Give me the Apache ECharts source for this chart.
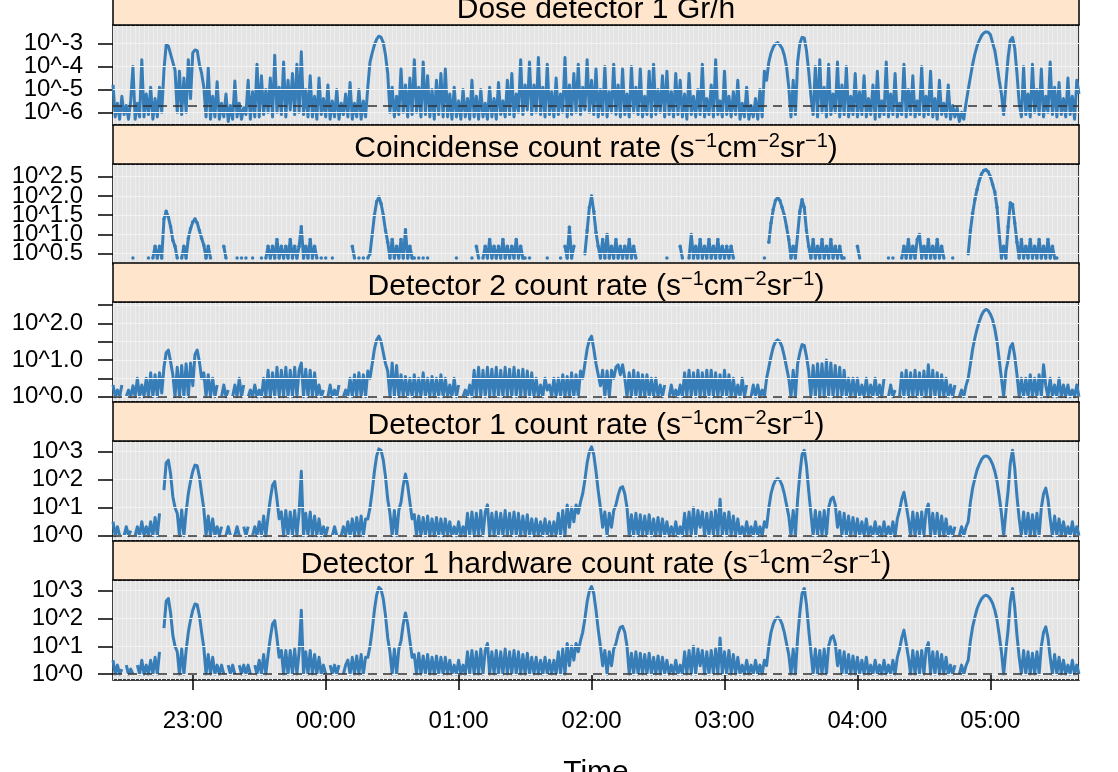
<!DOCTYPE html>
<html><head><meta charset="utf-8">
<script src="https://cdn.jsdelivr.net/npm/echarts@6/dist/echarts.min.js"></script>
<style>html,body{margin:0;padding:0;background:#fff}#c{width:1118px;height:772px}</style>
</head><body><div id="c"></div>
<script>
// ---------- DATA ----------
// sample times: minutes after midnight of the first day, one sample per minute from 22:24
const timeStartMin = 1344;
const timeStepMin = 1;
const hourTicks = [1380, 1440, 1500, 1560, 1620, 1680, 1740];
const hourLabels = ['23:00', '00:00', '01:00', '02:00', '03:00', '04:00', '05:00'];

// log10 of dose rate (Gr/h)
const doseLog10 = [
-4.8,-6.2,-5.6,-6.3,-5.3,-6.1,-5.7,-6.3,-5.5,-4.0,
-6.3,-5.6,-6.2,-3.7,-6.2,-5.2,-6.1,-4.9,-6.3,-5.4,
-6.2,-4.9,-6.0,-4.15,-3.05,-3.1,-3.45,-3.8,-4.15,-6.0,
-4.2,-6.1,-4.5,-6.0,-3.7,-5.4,-3.4,-3.27,-3.3,-3.9,
-4.3,-4.9,-6.2,-4.05,-6.3,-5.3,-6.2,-4.66,-6.3,-5.6,
-6.2,-5.2,-6.4,-5.7,-6.3,-4.63,-6.2,-5.6,-6.3,-5.8,
-6.1,-4.6,-6.3,-5.1,-6.2,-3.9,-6.2,-4.4,-6.1,-5.0,
-6.0,-4.5,-6.2,-3.5,-6.0,-4.9,-6.1,-3.8,-6.2,-4.6,
-5.9,-4.3,-6.1,-3.9,-6.0,-3.35,-6.1,-5.0,-6.2,-4.4,
-6.2,-5.3,-6.3,-4.5,-6.1,-5.4,-6.2,-4.8,-6.3,-5.5,
-6.2,-5.0,-6.3,-5.6,-6.1,-5.2,-6.2,-4.7,-6.3,-5.6,
-6.2,-5.0,-6.3,-5.5,-6.2,-4.9,-3.8,-3.4,-3.05,-2.8,
-2.67,-2.72,-2.95,-3.5,-4.3,-6.0,-4.9,-6.2,-5.3,-6.1,
-4.1,-6.0,-4.8,-6.2,-4.5,-6.1,-3.7,-6.0,-4.9,-6.2,
-3.8,-6.1,-4.4,-6.2,-5.0,-6.3,-4.6,-6.1,-4.3,-6.2,
-4.1,-6.2,-5.2,-6.3,-4.9,-6.2,-5.5,-6.3,-5.0,-6.2,
-5.4,-6.3,-4.6,-6.2,-5.3,-6.3,-5.0,-6.2,-5.6,-6.3,
-4.9,-6.2,-5.4,-6.3,-4.7,-6.1,-5.5,-6.2,-4.6,-6.1,
-4.3,-6.2,-5.2,-6.0,-3.7,-6.1,-4.8,-5.9,-3.8,-6.1,
-4.8,-6.0,-3.6,-6.1,-4.9,-6.2,-3.9,-6.1,-5.1,-6.2,
-4.5,-6.1,-5.2,-6.0,-3.6,-6.2,-4.8,-6.1,-4.3,-6.0,
-3.9,-6.1,-4.9,-5.9,-3.7,-6.0,-4.6,-6.1,-4.1,-6.2,
-5.0,-6.1,-4.0,-6.2,-5.1,-6.0,-3.9,-6.1,-4.8,-6.2,
-4.1,-6.1,-5.2,-6.2,-4.0,-6.0,-4.9,-6.1,-4.1,-6.2,
-5.3,-6.1,-4.2,-6.2,-3.9,-6.1,-5.0,-6.0,-4.4,-6.2,
-4.2,-6.1,-5.1,-6.2,-4.3,-6.1,-4.6,-6.2,-5.2,-6.3,
-4.3,-6.1,-5.3,-6.2,-5.0,-6.1,-3.9,-6.2,-5.4,-6.1,
-4.8,-6.2,-3.7,-6.1,-5.5,-6.2,-4.2,-6.1,-5.3,-6.2,
-5.1,-6.1,-4.6,-6.3,-5.6,-6.2,-4.9,-6.3,-5.7,-6.2,
-5.4,-6.3,-5.0,-6.2,-4.2,-4.6,-3.8,-3.4,-3.15,-3.0,
-2.95,-3.05,-3.2,-3.5,-4.0,-4.9,-6.2,-4.6,-6.1,-3.8,
-3.0,-2.72,-2.75,-3.3,-4.2,-5.3,-6.1,-4.0,-6.2,-3.7,
-6.0,-4.9,-6.2,-3.9,-6.1,-5.2,-6.0,-3.8,-6.2,-4.8,
-6.1,-4.0,-6.2,-5.3,-6.1,-4.3,-6.2,-5.1,-6.1,-4.4,
-6.2,-5.4,-6.1,-4.8,-6.3,-4.2,-6.2,-5.5,-6.1,-3.8,
-6.2,-5.2,-6.1,-4.3,-6.2,-5.6,-6.1,-3.9,-6.2,-5.0,
-6.1,-4.4,-6.2,-5.5,-6.1,-4.0,-6.2,-5.3,-6.1,-4.2,
-6.2,-5.4,-6.3,-4.6,-6.1,-5.6,-6.2,-4.8,-6.3,-5.7,
-6.2,-5.8,-6.4,-6.0,-6.3,-5.6,-5.0,-4.45,-3.9,-3.45,
-3.1,-2.85,-2.65,-2.53,-2.48,-2.5,-2.6,-2.95,-3.3,-3.9,
-4.6,-5.2,-6.1,-4.8,-3.6,-2.85,-2.72,-3.2,-4.3,-5.6,
-6.2,-4.0,-6.1,-5.2,-6.2,-3.9,-6.0,-5.0,-6.1,-4.1,
-6.2,-5.3,-6.0,-3.8,-6.1,-4.9,-6.2,-4.7,-6.1,-5.4,
-6.2,-4.5,-6.1,-5.3,-6.3,-4.6,-5.2
];
// log10 of coincidence count rate (null = no counts in that minute)
const coincLog10 = [
null,null,null,null,null,null,null,null,null,0.39,
null,null,null,null,null,null,0.39,null,0.39,0.69,
0.39,0.69,0.39,1.4,1.6,1.45,1.2,0.85,0.69,0.39,
null,0.39,0.69,0.39,0.9,1.15,1.32,1.4,1.3,1.1,
0.9,0.72,0.39,0.69,0.39,null,null,null,null,null,
0.69,0.39,null,null,null,null,0.39,null,0.39,null,
0.39,null,null,0.39,null,null,null,0.39,null,0.39,
0.69,0.39,0.69,0.39,0.87,0.39,0.69,0.39,0.69,0.39,
0.87,0.39,0.69,0.39,0.69,1.2,0.39,0.69,0.39,0.87,
0.39,0.69,0.39,null,0.39,null,0.39,null,null,0.39,
null,null,null,null,null,null,null,null,0.69,0.39,
null,0.39,null,0.39,null,0.39,0.5,1.0,1.5,1.85,
1.97,1.8,1.5,1.1,0.8,0.39,0.87,0.39,0.69,0.39,
0.87,0.39,1.12,0.39,0.69,0.39,0.39,null,0.39,null,
0.39,null,0.39,null,null,null,null,null,null,null,
null,null,null,null,null,0.39,null,null,null,null,
null,null,0.39,null,0.69,0.39,null,0.39,0.69,0.39,
0.87,0.39,0.69,0.39,0.69,0.39,0.87,0.39,0.69,0.39,
0.69,0.39,0.87,0.39,0.69,0.39,0.39,null,0.39,null,
null,null,null,null,null,null,0.39,null,null,null,
null,null,0.39,null,0.69,0.39,1.19,0.39,0.69,null,
null,null,null,0.5,1.1,1.7,2.0,1.6,1.05,0.69,
0.39,0.87,0.39,1.0,0.39,0.69,0.39,0.87,0.39,0.69,
0.39,0.69,0.39,0.87,0.39,0.69,0.39,null,null,null,
null,null,null,null,null,null,null,null,null,null,
0.39,null,null,null,null,null,0.69,0.39,null,null,
0.39,1.0,0.39,0.69,0.39,0.87,0.39,0.69,0.39,0.87,
0.39,0.69,0.39,0.87,0.39,0.69,0.39,0.69,0.39,0.69,
0.39,null,null,null,null,null,null,null,null,null,
null,null,null,null,0.39,null,0.8,1.3,1.65,1.88,
1.96,1.88,1.7,1.5,1.2,0.87,0.39,0.69,0.39,1.0,
1.6,1.9,1.7,1.1,0.69,0.39,0.87,0.39,0.69,0.39,
0.87,0.39,0.69,0.39,0.87,0.39,0.69,0.39,0.69,0.39,
0.39,null,null,null,null,null,0.69,0.39,null,null,
null,null,null,null,null,null,null,null,null,null,
0.39,null,0.39,null,null,null,0.39,0.69,0.39,0.87,
0.39,0.69,0.39,0.87,1.0,0.39,0.69,0.39,0.87,0.39,
0.69,0.39,0.87,0.39,0.69,0.39,null,null,null,0.39,
null,null,null,null,null,null,0.5,1.1,1.55,1.9,
2.17,2.4,2.57,2.66,2.68,2.63,2.5,2.3,2.1,1.7,
1.0,0.39,0.69,0.39,1.2,1.82,1.78,1.3,0.8,0.39,
0.87,0.39,0.69,0.39,0.87,0.39,0.69,0.39,0.87,0.39,
0.69,0.39,0.87,0.39,0.69,0.39,0.39,null,null,null,
null,null,null,null,null,null,null
];
// log10 of detector 2 count rate
const det2Log10 = [
0.32,0.0,0.18,0.0,0.32,null,0.0,0.18,0.0,0.3,
0.0,0.5,0.0,0.32,0.0,0.5,0.0,0.65,0.0,0.6,
0.0,0.65,0.1,0.8,1.2,1.27,0.95,0.6,0.0,0.8,
0.0,0.85,0.0,0.9,0.0,0.92,0.3,1.15,1.27,0.95,
0.5,0.65,0.0,0.6,0.0,0.5,0.0,0.32,null,0.0,
0.32,0.0,0.18,null,0.0,0.32,0.0,0.5,0.0,0.32,
null,0.0,0.18,0.0,0.32,0.0,0.18,0.0,0.5,0.0,
0.72,0.0,0.65,0.0,0.8,0.0,0.72,0.0,0.8,0.0,
0.72,0.0,0.8,0.0,0.72,0.92,0.0,0.75,0.0,0.72,
0.0,0.65,0.0,0.32,0.0,0.18,null,0.0,0.32,0.0,
0.18,0.0,0.32,null,0.0,0.18,0.0,0.5,0.0,0.6,
0.0,0.65,0.0,0.6,0.0,0.7,0.5,0.9,1.3,1.55,
1.65,1.5,1.2,0.9,0.7,0.0,0.92,0.0,0.85,0.0,
0.6,0.0,0.55,0.0,0.5,0.0,0.6,0.0,0.5,0.0,
0.65,0.0,0.5,0.0,0.55,0.0,0.5,0.0,0.6,0.0,
0.5,0.0,0.32,0.0,0.5,0.0,0.32,null,0.0,0.18,
0.0,0.32,0.0,0.72,0.0,0.8,0.0,0.72,0.0,0.8,
0.0,0.75,0.0,0.8,0.0,0.72,0.0,0.8,0.0,0.75,
0.0,0.8,0.0,0.72,0.0,0.75,0.0,0.7,0.0,0.65,
0.0,0.5,0.0,0.32,0.0,0.5,0.18,0.32,0.0,0.5,
0.0,0.5,0.0,0.6,0.0,0.55,0.0,0.65,0.0,0.6,
0.0,0.7,0.5,0.9,1.3,1.55,1.65,1.3,0.9,0.6,
0.3,0.72,0.0,0.7,0.0,0.72,0.5,0.8,0.87,0.6,
0.87,0.5,0.0,0.65,0.0,0.72,0.0,0.65,0.0,0.6,
0.0,0.6,0.0,0.5,0.0,0.5,0.0,0.32,0.0,0.32,
null,0.0,0.32,0.0,0.18,0.0,0.32,0.0,0.65,0.0,
0.72,0.0,0.65,0.0,0.72,0.0,0.65,0.0,0.72,0.0,
0.72,0.0,0.65,0.0,0.6,0.0,0.72,0.0,0.6,0.0,
0.5,0.0,0.32,0.0,0.5,0.0,0.32,null,0.0,0.32,
0.0,0.32,0.0,0.18,0.0,0.5,0.8,1.1,1.35,1.5,
1.55,1.5,1.35,1.1,0.8,0.5,0.0,0.72,0.0,0.9,
1.2,1.42,1.4,1.1,0.7,0.0,0.85,0.0,0.9,0.0,
0.9,0.0,1.0,0.0,0.92,0.0,0.85,0.0,0.8,0.0,
0.72,0.0,0.5,0.0,0.5,0.0,0.5,0.0,0.32,0.0,
0.5,0.0,0.32,0.0,0.5,0.0,0.32,0.0,0.5,null,
0.0,0.32,0.0,0.18,null,0.0,0.65,0.0,0.72,0.0,
0.65,0.0,0.72,0.0,0.65,0.0,0.7,0.0,0.87,0.0,
0.72,0.0,0.65,0.0,0.6,0.0,0.5,0.0,0.32,0.0,
0.32,null,0.0,0.18,0.0,0.3,0.5,0.9,1.3,1.6,
1.85,2.05,2.22,2.33,2.38,2.35,2.25,2.1,1.85,1.5,
1.0,0.5,0.0,0.7,1.0,1.35,1.45,1.1,0.6,0.0,
0.5,0.0,0.5,0.0,0.6,0.0,0.5,0.0,0.6,0.0,
0.87,0.3,0.0,0.5,0.0,0.32,0.0,0.5,0.0,0.32,
0.0,0.32,0.0,0.18,0.0,0.32,0.0
];
// log10 of detector 1 count rate
const det1Log10 = [
0.5,0.0,0.32,0.0,null,0.0,0.32,0.0,0.18,null,
0.0,0.32,0.0,0.5,0.0,0.32,0.0,0.5,0.0,0.65,
0.0,0.8,null,1.63,2.6,2.7,2.2,1.4,1.0,0.8,
0.0,0.92,0.0,0.85,1.5,1.95,2.3,2.52,2.5,2.1,
1.5,0.95,0.0,0.7,0.0,0.6,0.0,0.32,0.0,0.32,
null,0.0,0.32,0.0,null,0.0,0.32,0.0,null,0.32,
0.0,0.32,null,0.0,0.32,0.0,0.5,0.0,0.7,0.0,
0.7,1.3,1.8,1.93,1.3,0.6,0.85,0.0,0.9,0.0,
0.85,0.0,0.9,0.0,0.85,2.3,0.0,0.8,0.0,0.85,
0.0,0.7,0.0,0.6,0.0,0.32,0.0,0.32,null,0.0,
0.32,0.0,null,0.0,0.32,0.0,0.5,0.0,0.6,0.0,
0.65,0.0,0.7,0.0,0.6,0.6,1.0,1.6,2.3,2.85,
3.1,3.05,2.7,2.1,1.3,0.8,0.0,0.9,0.0,0.9,
1.2,1.8,2.2,1.8,1.2,0.6,0.75,0.0,0.7,0.0,
0.65,0.0,0.7,0.0,0.6,0.0,0.65,0.0,0.6,0.0,
0.6,0.0,0.5,0.0,0.32,0.0,0.5,0.0,0.32,0.0,
0.8,0.0,0.85,0.0,0.8,0.0,0.9,0.0,0.85,1.1,
0.0,0.8,0.0,0.85,0.0,0.8,0.0,0.9,0.0,0.8,
0.0,0.85,0.0,0.8,0.0,0.7,0.0,0.75,0.0,0.6,
0.0,0.6,0.0,0.5,0.0,0.6,0.0,0.5,0.0,0.5,
0.0,0.8,0.0,0.9,0.0,1.1,0.3,1.0,0.5,1.1,
0.8,1.2,1.5,2.0,2.6,3.0,3.17,2.9,2.3,1.6,
1.0,0.3,0.85,0.0,0.8,0.3,0.9,1.1,1.45,1.7,
1.75,1.5,1.0,0.0,0.75,0.0,0.8,0.0,0.75,0.0,
0.7,0.0,0.75,0.0,0.6,0.0,0.65,0.0,0.6,0.0,
0.5,0.0,0.32,0.0,0.5,0.0,0.32,0.0,0.8,0.0,
0.85,0.0,1.0,0.0,0.9,0.3,0.85,0.0,0.8,0.0,
0.85,0.0,0.9,0.0,1.3,0.0,0.8,0.0,0.85,0.0,
0.7,0.0,0.6,0.0,0.32,0.0,0.5,0.0,0.32,0.0,
0.5,0.0,0.32,0.0,0.5,0.3,1.0,1.5,1.8,1.98,
2.05,1.98,1.8,1.5,1.1,0.7,0.0,0.9,0.0,1.3,
2.2,2.9,3.05,2.5,1.6,0.8,0.0,0.9,0.0,0.85,
0.0,0.9,0.0,1.0,1.3,1.38,1.1,0.3,0.85,0.0,
0.8,0.0,0.7,0.0,0.65,0.0,0.6,0.0,0.5,0.0,
0.6,0.0,0.32,0.0,0.5,0.0,0.32,0.0,0.5,0.0,
0.32,0.0,0.5,0.0,0.6,0.9,1.3,1.55,1.1,0.6,
0.0,0.85,0.0,0.8,0.0,0.85,0.0,0.9,1.13,0.0,
0.8,0.0,0.8,0.0,0.7,0.0,0.6,0.0,0.32,0.0,
0.32,null,0.0,0.32,0.0,0.3,0.5,1.2,1.7,2.05,
2.35,2.55,2.72,2.82,2.85,2.82,2.72,2.55,2.3,1.95,
1.4,0.8,0.0,0.85,1.6,2.6,3.05,2.4,1.4,0.6,
0.0,0.85,0.0,0.8,0.0,0.75,0.0,0.8,0.0,1.0,
1.5,1.7,1.3,0.6,0.0,0.7,0.0,0.6,0.0,0.5,
0.0,0.32,0.0,0.5,0.0,0.32,0.0
];
// log10 of detector 1 hardware count rate
const det1HwLog10 = [
0.5,0.0,0.32,0.0,0.18,null,0.32,0.0,0.18,0.0,
null,0.32,0.0,0.5,0.0,0.32,0.0,0.5,0.0,0.6,
0.0,0.8,null,1.65,2.62,2.72,2.2,1.4,1.0,0.8,
0.0,0.9,0.0,0.85,1.5,1.95,2.3,2.52,2.5,2.1,
1.5,0.95,0.0,0.7,0.0,0.6,0.0,0.32,0.0,0.32,
0.0,null,0.32,0.0,0.32,0.0,null,0.32,0.0,0.32,
0.0,0.32,0.0,null,0.32,0.0,0.5,0.0,0.7,0.0,
0.7,1.3,1.8,1.92,1.3,0.6,0.85,0.0,0.85,0.0,
0.85,0.0,0.9,0.0,0.8,2.3,0.0,0.8,0.0,0.85,
0.0,0.7,0.0,0.6,0.0,0.32,0.0,null,0.32,0.0,
0.32,0.0,0.32,null,0.0,0.32,0.5,0.0,0.6,0.0,
0.65,0.0,0.7,0.0,0.6,0.6,1.0,1.6,2.3,2.85,
3.12,3.05,2.7,2.1,1.3,0.8,0.0,0.9,0.0,0.9,
1.2,1.8,2.2,1.8,1.2,0.6,0.7,0.0,0.75,0.0,
0.65,0.0,0.7,0.0,0.6,0.0,0.65,0.0,0.6,0.0,
0.6,0.0,0.5,0.0,0.32,0.0,0.5,0.0,0.32,0.0,
0.8,0.0,0.85,0.0,0.8,0.0,0.9,0.0,0.85,1.1,
0.0,0.8,0.0,0.85,0.0,0.8,0.0,0.9,0.0,0.8,
0.0,0.85,0.0,0.8,0.0,0.7,0.0,0.75,0.0,0.6,
0.0,0.6,0.0,0.5,0.0,0.6,0.0,0.5,0.0,0.5,
0.0,0.8,0.0,0.9,0.0,1.1,0.3,1.0,0.5,1.1,
0.8,1.2,1.5,2.0,2.6,3.0,3.15,2.9,2.3,1.6,
1.0,0.3,0.85,0.0,0.8,0.3,0.9,1.1,1.45,1.68,
1.72,1.5,1.0,0.0,0.75,0.0,0.8,0.0,0.75,0.0,
0.7,0.0,0.75,0.0,0.6,0.0,0.65,0.0,0.6,0.0,
0.5,0.0,0.32,0.0,0.5,0.0,0.32,0.0,0.8,0.0,
0.85,0.0,1.0,0.0,0.9,0.3,0.85,0.0,0.8,0.0,
0.85,0.0,0.9,0.0,1.3,0.0,0.8,0.0,0.85,0.0,
0.7,0.0,0.6,0.0,0.32,0.0,0.5,0.0,0.32,0.0,
0.5,0.0,0.32,0.0,0.5,0.3,1.0,1.5,1.8,1.98,
2.05,1.98,1.8,1.5,1.1,0.7,0.0,0.9,0.0,1.3,
2.2,2.9,3.08,2.5,1.6,0.8,0.0,0.9,0.0,0.85,
0.0,0.9,0.0,1.0,1.3,1.38,1.1,0.3,0.85,0.0,
0.8,0.0,0.7,0.0,0.65,0.0,0.6,0.0,0.5,0.0,
0.6,0.0,0.32,0.0,0.5,0.0,0.32,0.0,0.5,0.0,
0.32,0.0,0.5,0.0,0.6,0.9,1.3,1.58,1.1,0.6,
0.0,0.85,0.0,0.8,0.0,0.85,0.0,0.9,1.13,0.0,
0.8,0.0,0.8,0.0,0.7,0.0,0.6,0.0,0.32,0.0,
0.32,null,0.0,0.32,0.0,0.3,0.5,1.2,1.7,2.05,
2.35,2.55,2.7,2.8,2.84,2.8,2.7,2.55,2.3,1.95,
1.4,0.8,0.0,0.85,1.6,2.6,3.08,2.4,1.4,0.6,
0.0,0.85,0.0,0.8,0.0,0.75,0.0,0.8,0.0,1.0,
1.5,1.7,1.3,0.6,0.0,0.7,0.0,0.6,0.0,0.5,
0.0,0.32,0.0,0.5,0.0,0.32,0.0
];

// y tick positions (log10); labels are split into two alternating sets
const doseTicks = [-6, -5, -4, -3];
const doseLabelsA = [-6, -4], doseLabelsB = [-5, -3];
const coincTicks = [0.5, 1.0, 1.5, 2.0, 2.5];
const coincLabelsA = [0.5, 1.5, 2.5], coincLabelsB = [1.0, 2.0];
const det2Ticks = [0, 0.5, 1.0, 1.5, 2.0, 2.5];
const det2LabelsA = [0, 1.0, 2.0];
const det1Ticks = [0, 1, 2, 3];
const det1LabelsA = [0, 1, 2, 3];

const panelTitles = [
  '{n|Dose detector 1 Gr/h}',
  '{n|Coincidense count rate (s}{s|\u22121}{n|cm}{s|\u22122}{n|sr}{s|\u22121}{n|)}',
  '{n|Detector 2 count rate (s}{s|\u22121}{n|cm}{s|\u22122}{n|sr}{s|\u22121}{n|)}',
  '{n|Detector 1 count rate (s}{s|\u22121}{n|cm}{s|\u22122}{n|sr}{s|\u22121}{n|)}',
  '{n|Detector 1 hardware count rate (s}{s|\u22121}{n|cm}{s|\u22122}{n|sr}{s|\u22121}{n|)}'
];
const xTitle = 'Time';

// ---------- LAYOUT / STYLE ----------
const FONT = '"Liberation Sans", Arial, Helvetica, sans-serif';
const BLUE = '#377EB8';
const gridLeft = 113, gridWidth = 966, gridHeight = 100, stripH = 39;
const gridTops = [25, 164, 302, 441, 580];
const textureStep = 2;

const panels = [
  { data: doseLog10, min: -6.555, max: -2.18, ticks: doseTicks, labA: doseLabelsA, labB: doseLabelsB, fmt: v => '10^' + v, ref: -5.71, sym: false },
  { data: coincLog10, min: 0.232, max: 2.83, ticks: coincTicks, labA: coincLabelsA, labB: coincLabelsB, fmt: v => '10^' + v.toFixed(1), ref: null, sym: true },
  { data: det2Log10, min: -0.145, max: 2.582, ticks: det2Ticks, labA: det2LabelsA, labB: [], fmt: v => '10^' + v.toFixed(1), ref: 0, sym: false },
  { data: det1Log10, min: -0.19, max: 3.382, ticks: det1Ticks, labA: det1LabelsA, labB: [], fmt: v => '10^' + v, ref: 0, sym: false },
  { data: det1HwLog10, min: -0.215, max: 3.385, ticks: det1Ticks, labA: det1LabelsA, labB: [], fmt: v => '10^' + v, ref: 0, sym: false }
];

const N = panels.length;
const grids = [], xAxes = [], yAxes = [], series = [], graphics = [];
const xMin = timeStartMin, xMax = 1780;
const labelStyle = { margin: 30, fontSize: 24, fontFamily: FONT, color: '#000', hideOverlap: false };

panels.forEach((p, k) => {
  grids.push({ left: gridLeft, top: gridTops[k], width: gridWidth, height: gridHeight,
    show: true, backgroundColor: '#E4E4E4', borderColor: '#000', borderWidth: 1.5 });
  const isBottom = k === N - 1;
  xAxes[k] = {
    gridIndex: k, type: 'value', min: xMin, max: xMax,
    axisLine: { show: false },
    axisTick: { show: isBottom, customValues: hourTicks, length: 16, lineStyle: { color: '#000', width: 1.5 } },
    axisLabel: Object.assign({ show: isBottom, customValues: hourTicks, formatter: v => hourLabels[hourTicks.indexOf(v)] },
      labelStyle, { margin: 29 }),
    splitLine: { show: false }
  };
  xAxes[N + k] = {
    gridIndex: k, type: 'value', min: xMin, max: xMax, interval: textureStep,
    axisLine: { show: false }, axisTick: { show: false }, axisLabel: { show: false },
    splitLine: { show: true, lineStyle: { color: '#EDEDED', width: 1 } }
  };
  yAxes[k] = {
    gridIndex: k, type: 'value', min: p.min, max: p.max, position: 'left',
    axisLine: { show: false },
    axisTick: { show: true, customValues: p.ticks, length: 15, lineStyle: { color: '#000', width: 1.5 } },
    axisLabel: Object.assign({ show: true, customValues: p.labA, formatter: p.fmt }, labelStyle),
    splitLine: { show: false }
  };
  yAxes[N + k] = {
    gridIndex: k, type: 'value', min: p.min, max: p.max, position: 'left', offset: 0,
    axisLine: { show: false }, axisTick: { show: false },
    axisLabel: Object.assign({ show: p.labB.length > 0, customValues: p.labB.length ? p.labB : [p.min], formatter: p.fmt }, labelStyle),
    splitLine: { show: false }
  };
  // light reference lines at the y ticks (behind the data)
  series.push({
    type: 'line', xAxisIndex: k, yAxisIndex: k, data: [], z: 1, silent: true,
    markLine: { silent: true, symbol: 'none', label: { show: false }, animation: false,
      lineStyle: { color: '#F2F2F2', width: 1, type: 'solid' },
      data: p.ticks.map(v => ({ yAxis: v })) }
  });
  const s = {
    type: 'line', xAxisIndex: k, yAxisIndex: k, z: 3,
    data: p.data.map((v, i) => [timeStartMin + i * timeStepMin, v]),
    connectNulls: false,
    showSymbol: p.sym, showAllSymbol: true, symbol: 'circle', symbolSize: 3.5,
    itemStyle: { color: BLUE },
    lineStyle: { color: BLUE, width: 3, join: 'round' },
    emphasis: { disabled: true }
  };
  if (p.ref !== null) {
    s.markLine = { silent: true, symbol: 'none', label: { show: false }, animation: false,
      lineStyle: { color: '#333', width: 1.5, type: [9, 6] },
      data: [{ yAxis: p.ref }] };
  }
  series.push(s);
  // strip
  const sTop = gridTops[k] - stripH;
  graphics.push({ type: 'rect', shape: { x: gridLeft, y: sTop, width: gridWidth, height: stripH },
    style: { fill: '#FFE5CC', stroke: '#000', lineWidth: 1.5 }, z: 100 });
  graphics.push({ type: 'text', x: gridLeft + gridWidth / 2, y: gridTops[k] - 15, z: 101,
    style: { text: panelTitles[k], align: 'center', verticalAlign: 'middle',
      rich: {
        n: { fontSize: 30, fontFamily: FONT, fill: '#000', lineHeight: 36 },
        s: { fontSize: 20, fontFamily: FONT, fill: '#000', lineHeight: 26, verticalAlign: 'top' }
      } } });
});
graphics.push({ type: 'text', x: gridLeft + gridWidth / 2, y: 773, z: 101,
  style: { text: xTitle, align: 'center', verticalAlign: 'middle', fontSize: 30, fontFamily: FONT, fill: '#000' } });

const chart = echarts.init(document.getElementById('c'), null, { renderer: 'canvas', width: 1118, height: 772 });
chart.setOption({
  animation: false,
  backgroundColor: '#fff',
  grid: grids, xAxis: xAxes, yAxis: yAxes, series: series, graphic: graphics
});
</script>
</body></html>
